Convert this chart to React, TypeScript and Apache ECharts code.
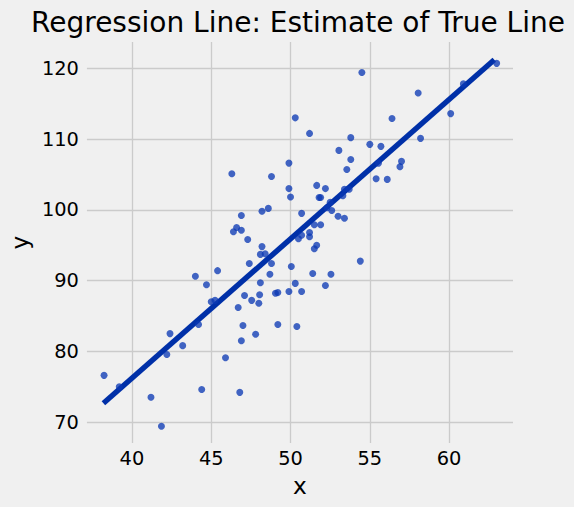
import React, { useEffect, useRef } from "react";
import * as echarts from "echarts";

const xValues = [
  50.3, 49.9, 46.3, 48.8, 49.9, 50.0, 50.7, 46.9, 48.2, 48.6,
  46.6, 46.4, 46.9, 47.3, 48.2, 50.5, 54.5, 63.0, 60.9, 58.05,
  60.1, 56.4, 51.2, 53.8, 58.2, 55.0, 55.7, 53.05, 53.8, 53.55,
  57.0, 56.9, 55.4, 56.1, 55.55, 51.65, 52.2, 51.8, 51.9, 53.4,
  53.7, 53.3, 52.5, 52.3, 52.6, 53.0, 53.4, 51.5, 51.9, 51.2,
  51.2, 50.7, 51.65, 51.5, 54.4, 50.05, 48.1, 48.4, 48.8, 47.4,
  45.4, 44.0, 48.7, 44.7, 48.1, 50.3, 47.1, 48.05, 49.05, 49.2,
  49.9, 50.7, 47.55, 48.0, 45.0, 45.24, 46.7, 44.2, 47.0, 49.2,
  50.4, 47.8, 46.9, 42.4, 43.2, 42.2, 45.9, 38.24, 39.2, 41.2,
  44.4, 46.8, 41.86, 51.4, 52.55, 52.2,
];
const yValues = [
  113.0, 106.6, 105.1, 104.7, 103.0, 101.8, 99.5, 99.2, 99.8, 100.2,
  97.5, 96.9, 97.1, 95.8, 94.8, 95.9, 119.4, 120.7, 117.8, 116.5,
  113.6, 112.9, 110.8, 110.2, 110.1, 109.25, 108.97, 108.4, 107.1, 105.7,
  106.85, 106.1, 104.4, 104.3, 106.6, 103.45, 103.0, 101.75, 101.75, 102.9,
  102.9, 102.0, 101.05, 100.3, 99.9, 99.1, 98.8, 97.9, 97.9, 96.8,
  96.2, 96.4, 95.0, 94.5, 92.75, 92.0, 93.7, 93.8, 92.4, 92.4,
  91.4, 90.6, 90.9, 89.4, 89.7, 89.6, 87.9, 88.0, 88.2, 88.3,
  88.45, 88.45, 87.2, 86.8, 87.0, 87.2, 86.2, 83.8, 83.65, 83.8,
  83.5, 82.4, 81.5, 82.5, 80.8, 79.55, 79.1, 76.6, 75.0, 73.5,
  74.6, 74.2, 69.4, 91.0, 90.9, 89.3,
];
const lineX = [38.2, 62.85];
const lineY = [72.65, 121.2];

const xTicks = [40, 45, 50, 55, 60];
const yTicks = [70, 80, 90, 100, 110, 120];

const titleText = "Regression Line: Estimate of True Line";

export default function App() {
  const ref = useRef<HTMLDivElement>(null);
  useEffect(() => {
    if (!ref.current) return;
    const chart = echarts.init(ref.current, null, { renderer: "svg" });
    const font = "DejaVu Sans";
    const gridLeft = 83;
    const gridRight = 61;
    const gridTop = 42;
    const gridBottom = 64;
    const plotCenterX = gridLeft + (574 - gridLeft - gridRight) / 2;
    chart.setOption({
      animation: false,
      backgroundColor: "#f0f0f0",
      textStyle: { fontFamily: font },
      graphic: [
        {
          type: "text",
          x: plotCenterX,
          y: 22,
          style: {
            text: titleText,
            fontFamily: font,
            fontSize: 28,
            fill: "#000",
            textAlign: "center",
            textVerticalAlign: "middle",
          },
        },
      ],
      grid: { left: gridLeft, right: gridRight, top: gridTop, bottom: gridBottom, containLabel: false },
      xAxis: {
        type: "value",
        min: 37.16,
        max: 64.03,
        name: "x",
        nameLocation: "middle",
        nameGap: 31,
        nameTextStyle: { fontFamily: font, fontSize: 23.3, color: "#000" },
        axisLine: { show: false },
        axisTick: { show: false, customValues: xTicks },
        axisLabel: {
          customValues: xTicks,
          fontFamily: font,
          fontSize: 19.4,
          color: "#000",
          margin: 6,
        },
        splitLine: { show: true, lineStyle: { color: "#cbcbcb", width: 1.3 } },
      },
      yAxis: {
        type: "value",
        min: 67.04,
        max: 123.72,
        name: "y",
        nameLocation: "middle",
        nameGap: 51,
        nameTextStyle: { fontFamily: font, fontSize: 23.3, color: "#000" },
        axisLine: { show: false },
        axisTick: { show: false, customValues: yTicks },
        axisLabel: {
          customValues: yTicks,
          fontFamily: font,
          fontSize: 19.4,
          color: "#000",
          margin: 8,
        },
        splitLine: { show: true, lineStyle: { color: "#cbcbcb", width: 1.3 } },
      },
      series: [
        {
          type: "line",
          data: lineX.map((x, i) => [x, lineY[i]]),
          symbol: "none",
          lineStyle: { color: "#0030a8", width: 5.4, cap: "butt" },
          z: 2,
        },
        {
          type: "scatter",
          data: xValues.map((x, i) => [x, yValues[i]]),
          symbolSize: 7,
          itemStyle: { color: "#0a38b4", opacity: 0.77 },
          z: 3,
        },
      ],
    });
    return () => chart.dispose();
  }, []);
  return (
    <div
      ref={ref}
      style={{ position: "absolute", left: 0, top: 0, width: 574, height: 507 }}
    />
  );
}
